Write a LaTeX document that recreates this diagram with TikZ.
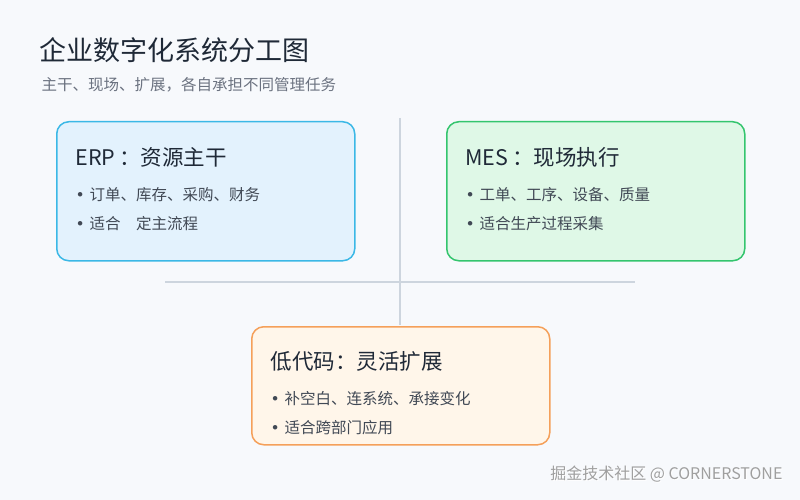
\documentclass[tikz,border=0pt]{standalone}
\usepackage{fontspec}
\setmainfont{Noto Sans CJK SC}
\newfontfamily\dotfont{DejaVu Sans}
\usetikzlibrary{positioning}
\definecolor{bgcol}{HTML}{F7F9FC}
\definecolor{linecol}{HTML}{CDD5DE}
\definecolor{txtcol}{HTML}{1F2937}
\definecolor{subcol}{HTML}{6B7280}
\definecolor{erpline}{HTML}{3BB8E6}
\definecolor{erpfill}{HTML}{E3F2FD}
\definecolor{mesline}{HTML}{34C56E}
\definecolor{mesfill}{HTML}{DFF8E7}
\definecolor{lcline}{HTML}{F5A05A}
\definecolor{lcfill}{HTML}{FFF6EA}
\newcommand{\bul}{{\dotfont•}\hspace{5pt}}
\tikzset{
  card/.style={draw, line width=1.5pt, rounded corners=12pt, minimum width=298pt, anchor=north west},
  cardtitle/.style={anchor=west, font=\fontsize{21.5}{25}\selectfont, text=txtcol},
  item/.style={anchor=west, font=\fontsize{15.5}{18}\selectfont, text=txtcol!85},
}
\begin{document}
\begin{tikzpicture}[x=1pt,y=-1pt]
  \fill[bgcol] (0,0) rectangle (800,500);
  \useasboundingbox (0,0) rectangle (800,500);
  % title
  \node[anchor=west, font=\fontsize{27}{32}\selectfont, text=txtcol] (title) at (36,50) {企业数字化系统分工图};
  \node[anchor=west, font=\fontsize{15.5}{18}\selectfont, text=subcol] (subtitle) at (38,85) {主干、现场、扩展，各自承担不同管理任务};
  % cross
  \coordinate (vtop) at (400,118);
  \coordinate (vbot) at (400,325);
  \coordinate (hleft) at (165,282);
  \coordinate (hright) at (635,282);
  \draw[linecol, line width=2pt] (vtop) -- (vbot);
  \draw[linecol, line width=2pt] (hleft) -- (hright);
  % cards
  \node[card, draw=erpline, fill=erpfill, minimum height=139pt] (erp) at (56,121) {};
  \node[card, draw=mesline, fill=mesfill, minimum height=139pt] (mes) at (446,121) {};
  \node[card, draw=lcline, fill=lcfill, minimum height=118pt] (lc) at (251,326) {};
  % ERP
  \node[cardtitle] (erpt) at (72,157) {ERP\,：资源主干};
  \node[item] (erp1) at (72,195) {\bul 订单、库存、采购、财务};
  \node[item] (erp2) at (72,224) {\bul 适合\quad 定主流程};
  % MES
  \node[cardtitle] (mest) at (462,157) {MES\,：现场执行};
  \node[item] (mes1) at (462,195) {\bul 工单、工序、设备、质量};
  \node[item] (mes2) at (462,224) {\bul 适合生产过程采集};
  % low-code
  \node[cardtitle] (lct) at (267,361) {低代码：灵活扩展};
  \node[item] (lc1) at (267,399) {\bul 补空白、连系统、承接变化};
  \node[item] (lc2) at (267,428) {\bul 适合跨部门应用};
  % watermark
  \node[anchor=east, font=\fontsize{16}{19}\selectfont, text=white] at (787,475) {掘金技术社区 @ CORNERSTONE};
  \node[anchor=east, font=\fontsize{16}{19}\selectfont, text=gray!75] (wm) at (786,474) {掘金技术社区 @ CORNERSTONE};
\end{tikzpicture}
\end{document}
